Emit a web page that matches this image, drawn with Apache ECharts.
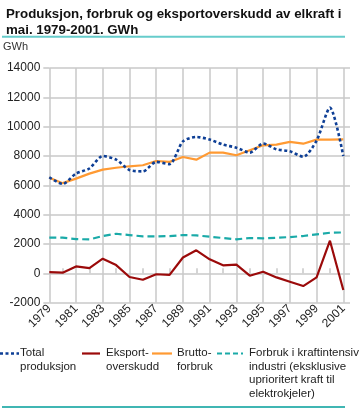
<!DOCTYPE html>
<html>
<head>
<meta charset="utf-8">
<script src="https://cdn.jsdelivr.net/npm/echarts@6/dist/echarts.min.js"></script>
<style>
html,body{margin:0;padding:0;background:#fff;}
#chart{width:361px;height:408px;}
</style>
</head>
<body>
<div id="chart"></div>
<script>
var years = [1979,1980,1981,1982,1983,1984,1985,1986,1987,1988,1989,1990,1991,1992,1993,1994,1995,1996,1997,1998,1999,2000,2001];
var totalProduksjon = [6550,6100,6800,7150,8000,7750,7050,6950,7600,7450,9000,9300,9120,8780,8570,8230,8850,8460,8320,7950,9050,11300,8000];
var eksportOverskudd = [90,45,475,360,1000,565,-250,-435,-60,-100,1080,1570,955,545,590,-160,110,-275,-570,-865,-275,2225,-1140];
var bruttoForbruk = [6520,6150,6460,6800,7070,7200,7300,7370,7660,7600,7930,7750,8230,8230,8050,8390,8730,8780,8960,8840,9120,9120,9140];
var kraftintensiv = [2430,2430,2340,2310,2545,2700,2610,2520,2520,2545,2610,2590,2500,2410,2320,2410,2390,2430,2475,2545,2660,2770,2790];

function pairs(arr){ return years.map(function(y,i){ return [y, arr[i]]; }); }

var C_BLUE = '#0e3f96', C_RED = '#9b0a0a', C_ORANGE = '#ff9a33', C_TEAL = '#1aaaa8';
var FONT = 'Liberation Sans, Arial, sans-serif';

var chart = echarts.init(document.getElementById('chart'), null, {renderer:'canvas'});
var legendY = 353.5;
var legendTextStyle = {fontSize:11.5, fontFamily:FONT, fill:'#222', lineHeight:13.5, verticalAlign:'top'};
function legendText(x, txt){
  return {type:'text', left:x, top:legendY-7, style:Object.assign({text:txt}, legendTextStyle)};
}
chart.setOption({
  animation:false,
  backgroundColor:'#fff',
  title:{
    text:'Produksjon, forbruk og eksportoverskudd av elkraft i\nmai. 1979-2001. GWh',
    left:1, top:1,
    textStyle:{fontSize:13.3, fontWeight:'bold', fontFamily:FONT, color:'#111', lineHeight:16}
  },
  grid:{left:49.3, top:68, right:11, bottom:105.3},
  xAxis:{
    type:'value', min:1979, max:2001.5, interval:2,
    axisLine:{show:false},
    axisTick:{show:false, inside:true},
    minorTick:{show:true, splitNumber:2, length:5, lineStyle:{color:'#c8c8c8', width:1.5}},
    splitLine:{show:true, showMaxLine:false, lineStyle:{color:'#c8c8c8', width:1.5}},
    axisLabel:{
      rotate:45, margin:4, fontSize:12, fontFamily:FONT, color:'#222', showMaxLabel:false,
      formatter:function(v){ return (v % 1 === 0) ? String(v) : ''; }
    }
  },
  yAxis:{
    type:'value', min:-2000, max:14000, interval:2000,
    axisLine:{show:false},
    axisTick:{show:true, length:6, lineStyle:{color:'#c8c8c8', width:1.5}},
    splitLine:{show:true, lineStyle:{color:'#c8c8c8', width:1.5}},
    axisLabel:{margin:9, fontSize:12, fontFamily:FONT, color:'#222',
      formatter:function(v){ return String(v); }}
  },
  series:[
    {name:'Forbruk i kraftintensiv industri', type:'line', data:pairs(kraftintensiv), symbol:'none',
     lineStyle:{color:C_TEAL, width:2.2, type:[7,4]}},
    {name:'Brutto-forbruk', type:'line', data:pairs(bruttoForbruk), symbol:'none',
     lineStyle:{color:C_ORANGE, width:2.2}},
    {name:'Eksport-overskudd', type:'line', data:pairs(eksportOverskudd), symbol:'none',
     lineStyle:{color:C_RED, width:2.2}},
    {name:'Total produksjon', type:'line', data:pairs(totalProduksjon), symbol:'none', smooth:0.25,
     lineStyle:{color:C_BLUE, width:2.6, type:[3,2.5]}}
  ],
  graphic:[
    {type:'rect', shape:{x:2, y:35.7, width:343, height:2}, style:{fill:'#66cccb'}},
    {type:'text', left:3, top:41, style:{text:'GWh', fontSize:11, fontFamily:FONT, fill:'#333'}},
    {type:'line', shape:{x1:0, y1:legendY, x2:19, y2:legendY}, style:{stroke:C_BLUE, lineWidth:2.6, lineDash:[3,2.5]}},
    legendText(20, 'Total\nproduksjon'),
    {type:'line', shape:{x1:82, y1:legendY, x2:100, y2:legendY}, style:{stroke:C_RED, lineWidth:2.2}},
    legendText(106, 'Eksport-\noverskudd'),
    {type:'line', shape:{x1:152, y1:legendY, x2:172, y2:legendY}, style:{stroke:C_ORANGE, lineWidth:2.2}},
    legendText(177, 'Brutto-\nforbruk'),
    {type:'line', shape:{x1:217, y1:legendY, x2:243, y2:legendY}, style:{stroke:C_TEAL, lineWidth:2.2, lineDash:[5,3]}},
    legendText(249, 'Forbruk i kraftintensiv\nindustri (eksklusive\nuprioritert kraft til\nelektrokjeler)'),
    {type:'rect', shape:{x:2, y:406.3, width:343, height:1.5}, style:{fill:'#009e9a'}}
  ]
});
</script>
</body>
</html>
